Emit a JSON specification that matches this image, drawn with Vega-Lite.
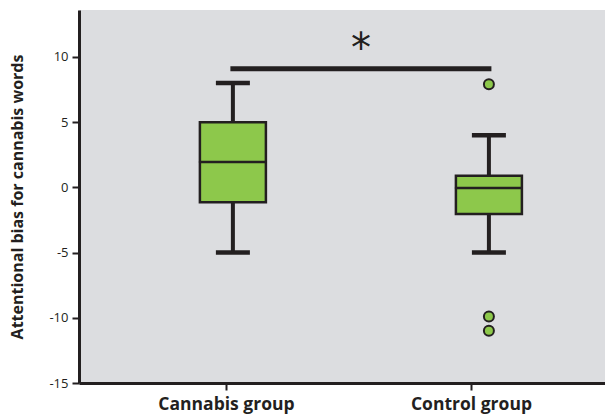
{
  "$schema": "https://vega.github.io/schema/vega-lite/v6.json",
  "width": 526,
  "height": 373,
  "autosize": {"type": "none"},
  "padding": {"left": 79, "top": 10, "right": 0, "bottom": 36},
  "background": "white",
  "config": {"view": {"fill": "#dcdde0", "stroke": null}, "font": "Open Sans"},
  "datasets": {
    "boxes": [
      {"group": "Cannabis group", "lower": -5, "q1": -1.15, "median": 1.95, "q3": 5, "upper": 8},
      {"group": "Control group", "lower": -5, "q1": -2.05, "median": -0.05, "q3": 0.9, "upper": 4}
    ],
    "outliers": [
      {"group": "Control group", "value": 7.9},
      {"group": "Control group", "value": -9.9},
      {"group": "Control group", "value": -11}
    ],
    "sig": [
      {"from": "Cannabis group", "to": "Control group", "y": 9.1, "label_y": 10.55, "label": "*"}
    ]
  },
  "layer": [
    {
      "data": {"name": "boxes"},
      "mark": {"type": "text", "text": ""},
      "encoding": {
        "x": {
          "field": "group", "type": "nominal",
          "scale": {"type": "point", "domain": ["Cannabis group", "Control group"], "padding": 0.5735, "align": 0.523},
          "axis": {
            "title": null, "labelAngle": 0, "domainWidth": 3, "domainColor": "#231f20",
            "tickSize": 7, "tickWidth": 2, "tickColor": "#231f20",
            "labelFontSize": 17.5, "labelFontWeight": "bold", "labelColor": "#231f20", "labelPadding": 5
          }
        }
      }
    },
    {
      "layer": [
        {
          "data": {"name": "boxes"},
          "mark": {"type": "rule", "color": "#231f20", "strokeWidth": 4},
          "encoding": {
            "x": {"field": "group", "type": "nominal", "scale": {"type": "point", "domain": ["Cannabis group", "Control group"], "padding": 0.5273, "align": 0.57}, "axis": null},
            "y": {
              "field": "lower", "type": "quantitative",
              "scale": {"domain": [-15, 13.6], "nice": false, "zero": false},
              "axis": {
                "values": [-15, -10, -5, 0, 5, 10], "grid": false,
                "labelExpr": "'' + datum.value",
                "title": "Attentional bias for cannabis words",
                "titleFontSize": 16, "titleFontWeight": "bold", "titleColor": "#231f20", "titlePadding": 23,
                "domainWidth": 3, "domainColor": "#231f20",
                "tickSize": 7, "tickWidth": 2, "tickColor": "#231f20",
                "labelFontSize": 13, "labelColor": "#231f20", "labelPadding": 4
              }
            },
            "y2": {"field": "upper"}
          }
        },
        {
          "data": {"name": "boxes"},
          "mark": {"type": "bar", "fill": "#8dc84b", "stroke": "#231f20", "strokeWidth": 2.5, "size": 66},
          "encoding": {
            "x": {"field": "group", "type": "nominal"},
            "y": {"field": "q1", "type": "quantitative"},
            "y2": {"field": "q3"}
          }
        },
        {
          "data": {"name": "boxes"},
          "mark": {"type": "tick", "color": "#231f20", "size": 68, "thickness": 2.5, "opacity": 1},
          "encoding": {
            "x": {"field": "group", "type": "nominal"},
            "y": {"field": "median", "type": "quantitative"}
          }
        },
        {
          "data": {"name": "boxes"},
          "mark": {"type": "tick", "color": "#231f20", "size": 34, "thickness": 4.5, "opacity": 1},
          "encoding": {
            "x": {"field": "group", "type": "nominal"},
            "y": {"field": "lower", "type": "quantitative"}
          }
        },
        {
          "data": {"name": "boxes"},
          "mark": {"type": "tick", "color": "#231f20", "size": 34, "thickness": 4.5, "opacity": 1},
          "encoding": {
            "x": {"field": "group", "type": "nominal"},
            "y": {"field": "upper", "type": "quantitative"}
          }
        },
        {
          "data": {"name": "outliers"},
          "mark": {"type": "point", "filled": true, "fill": "#8dc84b", "stroke": "#231f20", "strokeWidth": 2, "size": 100, "opacity": 1},
          "encoding": {
            "x": {"field": "group", "type": "nominal"},
            "y": {"field": "value", "type": "quantitative"}
          }
        },
        {
          "data": {"name": "sig"},
          "mark": {"type": "rule", "color": "#231f20", "strokeWidth": 5, "strokeCap": "square"},
          "encoding": {
            "x": {"field": "from", "type": "nominal"},
            "x2": {"field": "to"},
            "y": {"field": "y", "type": "quantitative"}
          }
        },
        {
          "data": {"name": "sig"},
          "mark": {"type": "text", "fontSize": 40, "color": "#231f20", "baseline": "middle", "dx": 128, "font": "DejaVu Sans"},
          "encoding": {
            "x": {"field": "from", "type": "nominal"},
            "y": {"field": "label_y", "type": "quantitative"},
            "text": {"field": "label"}
          }
        }
      ]
    }
  ],
  "resolve": {"scale": {"x": "independent"}}
}
